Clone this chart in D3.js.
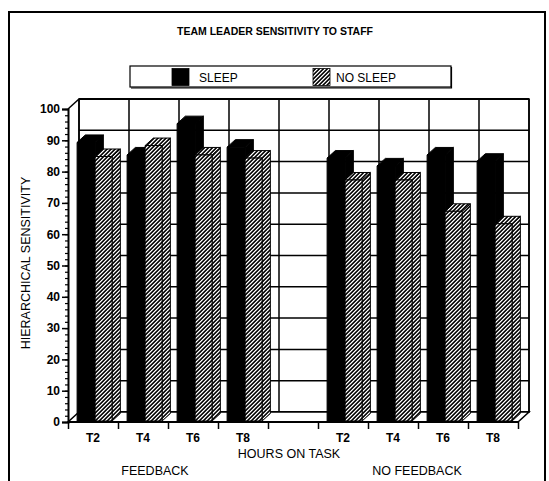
<!DOCTYPE html>
<html>
<head>
<meta charset="utf-8">
<script src="https://cdn.jsdelivr.net/npm/d3@7"></script>
<style>
  html, body { margin: 0; padding: 0; background: #fff; }
  svg { display: block; font-family: "Liberation Sans", Arial, Helvetica, sans-serif; }
</style>
</head>
<body>
<svg id="chart" width="549" height="481"></svg>
<script>
// Hours-on-task slots for the two conditions
const hours = ["T2", "T4", "T6", "T8"];
const groups = ["FEEDBACK", "NO FEEDBACK"];
const seriesNames = ["SLEEP", "NO SLEEP"];

// Hierarchical sensitivity scores
const sleepFeedback     = [89, 85, 95, 87.5];
const noSleepFeedback   = [84.5, 88, 85, 84];
const sleepNoFeedback   = [84, 81.5, 85, 83];
const noSleepNoFeedback = [77, 77, 67, 63];

const yTicks = [0, 10, 20, 30, 40, 50, 60, 70, 80, 90, 100];

// slot keys: four hours, an empty gap slot, four hours
const slots = [
  ...hours.map(h => "FB-" + h),
  "gap",
  ...hours.map(h => "NF-" + h)
];

const rows = [];
hours.forEach((h, i) => {
  rows.push({ slot: "FB-" + h, label: h, sleep: sleepFeedback[i], nosleep: noSleepFeedback[i] });
  rows.push({ slot: "NF-" + h, label: h, sleep: sleepNoFeedback[i], nosleep: noSleepNoFeedback[i] });
});

const svg = d3.select("#chart");

// pseudo-3D depth offset for the back wall
const DX = 11, DY = 10;

const x = d3.scaleBand().domain(slots).range([68, 518]).paddingInner(0).paddingOuter(0);
const xEdge = d3.scaleLinear().domain([0, slots.length]).range([68, 518]);
const y = d3.scaleLinear().domain([0, 100]).range([422, 109]);

const proj = (px, v, d) => [px + d * DX, y(v) - d * DY];
const poly = pts => pts.map(p => p.join(",")).join(" ");

// diagonal hatched fill for NO SLEEP
const defs = svg.append("defs");
const pat = defs.append("pattern")
  .attr("id", "hatch").attr("width", 4).attr("height", 4)
  .attr("patternUnits", "userSpaceOnUse");
pat.append("rect").attr("width", 4).attr("height", 4).attr("fill", "#fff");
const shades = ["#000", "#3a3a3a", null, "#8c8c8c"];
for (let r = 0; r < 4; r++) {
  shades.forEach((c, k) => {
    if (!c) return;
    pat.append("rect").attr("x", (3 - r + k) % 4).attr("y", r)
      .attr("width", 1).attr("height", 1).attr("fill", c);
  });
}

// outer frame
svg.append("path")
  .attr("d", "M9,481 V12 H545 V481")
  .attr("fill", "none").attr("stroke", "#000").attr("stroke-width", 2);

// title
svg.append("text")
  .attr("x", 275).attr("y", 35)
  .attr("text-anchor", "middle")
  .attr("font-size", 10.5).attr("font-weight", "bold")
  .text("TEAM LEADER SENSITIVITY TO STAFF");

// legend
const lg = svg.append("g");
lg.append("rect").attr("x", 130).attr("y", 66).attr("width", 321).attr("height", 21)
  .attr("fill", "#fff").attr("stroke", "#000").attr("stroke-width", 1.2);
lg.append("path").attr("d", "M451.5,67 V88 H131").attr("fill", "none").attr("stroke", "#000").attr("stroke-width", 1.2);
const legendItems = [
  { name: seriesNames[0], fill: "#000", sx: 172, tx: 199 },
  { name: seriesNames[1], fill: "url(#hatch)", sx: 313, tx: 336 }
];
legendItems.forEach(it => {
  lg.append("rect").attr("x", it.sx).attr("y", 68.5).attr("width", 17).attr("height", 17)
    .attr("fill", it.fill).attr("stroke", "#000").attr("stroke-width", 0.8);
  lg.append("text").attr("x", it.tx).attr("y", 82).attr("font-size", 12).text(it.name);
});

// back wall
const wall = svg.append("g").attr("stroke", "#000").attr("fill", "none");
wall.append("polygon")
  .attr("points", poly([proj(68, 0, 1), proj(518, 0, 1), proj(518, 100, 1), proj(68, 100, 1)]))
  .attr("fill", "#fff").attr("stroke-width", 1.5);
yTicks.forEach(t => {
  const a = proj(68, t, 1), b = proj(518, t, 1);
  wall.append("line").attr("x1", a[0]).attr("y1", a[1]).attr("x2", b[0]).attr("y2", b[1])
    .attr("stroke-width", t === 100 ? 2 : 1.5);
});
d3.range(slots.length + 1).forEach(k => {
  const a = proj(xEdge(k), 0, 1), b = proj(xEdge(k), 100, 1);
  wall.append("line").attr("x1", a[0]).attr("y1", a[1]).attr("x2", b[0]).attr("y2", b[1])
    .attr("stroke-width", 1.5);
});
// side wall top edge and floor
const st = [proj(68, 100, 0), proj(68, 100, 1)];
wall.append("line").attr("x1", st[0][0]).attr("y1", st[0][1]).attr("x2", st[1][0]).attr("y2", st[1][1]).attr("stroke-width", 1.5);
wall.append("polygon")
  .attr("points", poly([proj(68, 0, 0), proj(518, 0, 0), proj(518, 0, 1), proj(68, 0, 1)]))
  .attr("fill", "#fff").attr("stroke-width", 1.5);

// bars
function bar(g, x0, x1, v, d0, d1, fill) {
  const front = [proj(x0, 0, d0), proj(x1, 0, d0), proj(x1, v, d0), proj(x0, v, d0)];
  const top = [proj(x0, v, d0), proj(x1, v, d0), proj(x1, v, d1), proj(x0, v, d1)];
  const side = [proj(x1, 0, d0), proj(x1, 0, d1), proj(x1, v, d1), proj(x1, v, d0)];
  [side, top, front].forEach(f => {
    g.append("polygon").attr("points", poly(f))
      .attr("fill", fill).attr("stroke", "#000").attr("stroke-width", 1)
      .attr("stroke-linejoin", "round");
  });
}
const barsG = svg.append("g");
slots.forEach(s => {
  const r = rows.find(d => d.slot === s);
  if (!r) return;
  const s0 = x(s);
  bar(barsG, s0 + 8, s0 + 26, r.sleep, 0.1, 0.85, "#000");
  bar(barsG, s0 + 26, s0 + 43, r.nosleep, 0.1, 0.85, "url(#hatch)");
});

// y axis with major and minor ticks
const yAxis = svg.append("g").attr("transform", "translate(68,0)")
  .call(d3.axisLeft(y).tickValues(yTicks).tickSize(6).tickPadding(2));
yAxis.select(".domain").attr("stroke-width", 2);
yAxis.selectAll(".tick line").attr("stroke-width", 1.5);
yAxis.selectAll("text").attr("font-size", 12).attr("font-weight", "bold")
  .attr("font-family", "'Liberation Sans', Arial, sans-serif").attr("fill", "#000");
svg.append("g").attr("transform", "translate(68,0)")
  .call(d3.axisLeft(y).tickValues(d3.range(0, 101, 2)).tickSize(3).tickFormat(""))
  .call(g => g.select(".domain").remove())
  .selectAll("line").attr("stroke-width", 1.2);

// x axis: boundary ticks and centred hour labels
const xAxis = svg.append("g").attr("transform", "translate(0,422)")
  .call(d3.axisBottom(xEdge).tickValues(d3.range(slots.length + 1)).tickSize(7).tickFormat(""));
xAxis.select(".domain").attr("d", "M68,0H518").attr("stroke-width", 2);
xAxis.selectAll(".tick line").attr("stroke-width", 1.5);

svg.append("g").selectAll("text").data(rows).join("text")
  .attr("x", d => x(d.slot) + x.bandwidth() / 2)
  .attr("y", 442)
  .attr("text-anchor", "middle")
  .attr("font-size", 12).attr("font-weight", "bold")
  .text(d => d.label);

svg.append("text").attr("x", 289).attr("y", 458).attr("text-anchor", "middle")
  .attr("font-size", 12.5).text("HOURS ON TASK");
svg.append("text").attr("x", 155).attr("y", 475).attr("text-anchor", "middle")
  .attr("font-size", 12.5).text(groups[0]);
svg.append("text").attr("x", 417).attr("y", 475).attr("text-anchor", "middle")
  .attr("font-size", 12.5).text(groups[1]);

svg.append("text")
  .attr("transform", "translate(30,263) rotate(-90)")
  .attr("text-anchor", "middle")
  .attr("font-size", 12.5)
  .text("HIERARCHICAL SENSITIVITY");
</script>
</body>
</html>
